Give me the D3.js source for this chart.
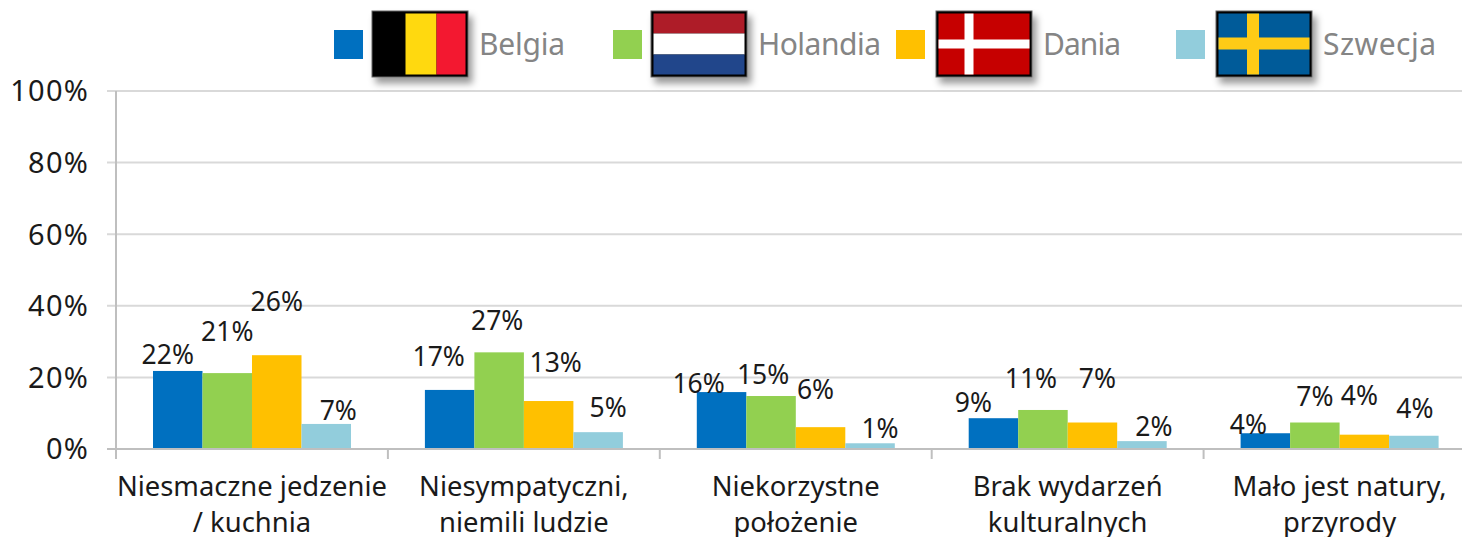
<!DOCTYPE html>
<html>
<head>
<meta charset="utf-8">
<script src="https://d3js.org/d3.v7.min.js"></script>
<style>
html, body { margin: 0; padding: 0; background: #fff; overflow: hidden; }
text { font-family: "Noto Sans", sans-serif; }
</style>
</head>
<body>
<svg id="chart" width="1462" height="537"></svg>
<script>
// DATA
var categories = [
	["Niesmaczne jedzenie", "/ kuchnia"],
	["Niesympatyczni,", "niemili ludzie"],
	["Niekorzystne", "położenie"],
	["Brak wydarzeń", "kulturalnych"],
	["Mało jest natury,", "przyrody"]
];
var countries = ["Belgia", "Holandia", "Dania", "Szwecja"];
var belgia   = [21.8, 16.5, 15.9, 8.6, 4.4];
var holandia = [21.2, 27.0, 14.8, 10.9, 7.4];
var dania    = [26.2, 13.4, 6.1, 7.4, 4.0];
var szwecja  = [7.0, 4.7, 1.6, 2.2, 3.7];
var labelsBelgia   = ["22%", "17%", "16%", "9%", "4%"];
var labelsHolandia = ["21%", "27%", "15%", "11%", "7%"];
var labelsDania    = ["26%", "13%", "6%", "7%", "4%"];
var labelsSzwecja  = ["7%", "5%", "1%", "2%", "4%"];
var yTicks = [0, 20, 40, 60, 80, 100];

var seriesValues = [belgia, holandia, dania, szwecja];
var seriesLabels = [labelsBelgia, labelsHolandia, labelsDania, labelsSzwecja];

// LAYOUT / STYLE
var colors = ["#0070c0", "#92d050", "#ffc000", "#92cddc"];
var grid_color = "#d9d9d9";
var axis_color = "#bfbfbf";
var text_color = "#1a1a1a";

// hand placed labels in the original, offset from top centre of each bar [series][category]
var nudgeX = [[-10, -11, -23, -20, -17], [0, -2, -8, -12, 0], [0, 7, -5, 5, -5], [12, 10, 10, 12, 1]];
var nudgeY = [[-16, -33, -9, -16, -9], [-42, -32, -22, -32, -26], [-54, -39, -38, -44, -39], [-13, -25, -15, -15, -27]];

var svg = d3.select("#chart");

var y = d3.scaleLinear().domain([0, 100]).range([449, 91]);
var x = d3.scaleBand().domain(d3.range(categories.length)).range([116, 1475.5]);
var inner = d3.scaleBand().domain(d3.range(countries.length)).range([37, 235]);

/* shadow for the flags */
var defs = svg.append("defs");
var shadow = defs.append("filter").attr("id", "flagShadow")
	.attr("x", "-10%").attr("y", "-10%").attr("width", "125%").attr("height", "135%");
shadow.append("feDropShadow")
	.attr("dx", 4).attr("dy", 6).attr("stdDeviation", 3.5)
	.attr("flood-color", "#000").attr("flood-opacity", 0.4);

/* gridlines */
svg.append("g").selectAll("line")
	.data(yTicks.filter(function(d) { return d > 0; }))
	.enter().append("line")
	.attr("x1", 107).attr("x2", 1462)
	.attr("y1", function(d) { return y(d); })
	.attr("y2", function(d) { return y(d); })
	.attr("stroke", grid_color).attr("stroke-width", 2);

/* bars */
var bars = svg.append("g");
seriesValues.forEach(function(vals, s) {
	bars.selectAll(".s" + s)
		.data(vals)
		.enter().append("rect")
		.attr("class", "s" + s)
		.attr("x", function(d, i) { return x(i) + inner(s); })
		.attr("width", inner.bandwidth())
		.attr("y", function(d) { return y(d); })
		.attr("height", function(d) { return y(0) - y(d); })
		.attr("fill", colors[s]);
});

/* axes */
var axes = svg.append("g").attr("stroke", axis_color).attr("stroke-width", 2);
axes.append("line").attr("x1", 116).attr("x2", 116).attr("y1", y(100)).attr("y2", 459);
axes.append("line").attr("x1", 107).attr("x2", 1462).attr("y1", y(0)).attr("y2", y(0));
axes.selectAll(".xtick")
	.data(d3.range(1, categories.length))
	.enter().append("line")
	.attr("class", "xtick")
	.attr("x1", function(d) { return x(d); })
	.attr("x2", function(d) { return x(d); })
	.attr("y1", y(0)).attr("y2", 459);

/* y tick labels */
svg.append("g").selectAll("text")
	.data(yTicks)
	.enter().append("text")
	.attr("x", 89)
	.attr("y", function(d) { return y(d); })
	.attr("dy", "0.36em")
	.attr("text-anchor", "end")
	.attr("font-size", 29)
	.attr("letter-spacing", 1.2)
	.attr("fill", text_color)
	.text(function(d) { return d + "%"; });

/* category labels */
var cats = svg.append("g").selectAll("text")
	.data(categories)
	.enter().append("text")
	.attr("text-anchor", "middle")
	.attr("font-size", 27.4)
	.attr("fill", text_color);
cats.each(function(d, i) {
	d3.select(this).selectAll("tspan")
		.data(d)
		.enter().append("tspan")
		.attr("x", x(i) + x.bandwidth() / 2)
		.attr("y", function(t, j) { return 496 + j * 36; })
		.text(function(t) { return t; });
});

/* value labels */
var vals = svg.append("g");
seriesValues.forEach(function(v, s) {
	vals.selectAll(".l" + s)
		.data(v)
		.enter().append("text")
		.attr("class", "l" + s)
		.attr("x", function(d, i) { return x(i) + inner(s) + inner.bandwidth() / 2 + nudgeX[s][i]; })
		.attr("y", function(d, i) { return y(d) + nudgeY[s][i]; })
		.attr("dy", "0.36em")
		.attr("text-anchor", "middle")
		.attr("font-size", 26.5)
		.attr("fill", text_color)
		.text(function(d, i) { return seriesLabels[s][i]; });
});

/* legend */
var legend_sq = [334, 613, 896, 1176];
var legend_flag = [372, 651, 936, 1216];
var legend_text = [479, 758, 1043, 1323];
var legend_width = [86, 123, 78, 113];

function flag(i, draw) {
	var g = svg.append("g").attr("transform", "translate(" + legend_flag[i] + ",11)");
	g.append("rect").attr("width", 96).attr("height", 66).attr("fill", "#000")
		.attr("stroke", "#666").attr("stroke-width", 1)
		.attr("filter", "url(#flagShadow)");
	var inside = g.append("g").attr("transform", "translate(2.5,2.5)");
	draw(inside, 91, 61);
}

function block(g, a, b, c, d, fill) {
	g.append("rect").attr("x", a).attr("y", b).attr("width", c).attr("height", d).attr("fill", fill);
}

flag(0, function(g, w, h) {
	block(g, 0, 0, 31, h, "#000");
	block(g, 31, 0, 31, h, "#ffd90f");
	block(g, 62, 0, 29, h, "#f31830");
});
flag(1, function(g, w, h) {
	block(g, 0, 0, w, 20, "#ae1c28");
	block(g, 0, 20, w, 21, "#fff");
	block(g, 0, 41, w, 20, "#21468b");
});
flag(2, function(g, w, h) {
	block(g, 0, 0, w, h, "#c60000");
	block(g, 26, 0, 9, h, "#fff");
	block(g, 0, 26, w, 9, "#fff");
});
flag(3, function(g, w, h) {
	block(g, 0, 0, w, h, "#005b99");
	block(g, 28.5, 0, 12, h, "#fecb16");
	block(g, 0, 24, w, 12, "#fecb16");
});

svg.append("g").selectAll("rect")
	.data(countries)
	.enter().append("rect")
	.attr("x", function(d, i) { return legend_sq[i]; })
	.attr("y", 30).attr("width", 29).attr("height", 29)
	.attr("fill", function(d, i) { return colors[i]; });

svg.append("g").selectAll("text")
	.data(countries)
	.enter().append("text")
	.attr("x", function(d, i) { return legend_text[i]; })
	.attr("y", 55)
	.attr("font-size", 30)
	.attr("textLength", function(d, i) { return legend_width[i]; })
	.attr("fill", "#858585")
	.text(function(d) { return d; });
</script>
</body>
</html>
